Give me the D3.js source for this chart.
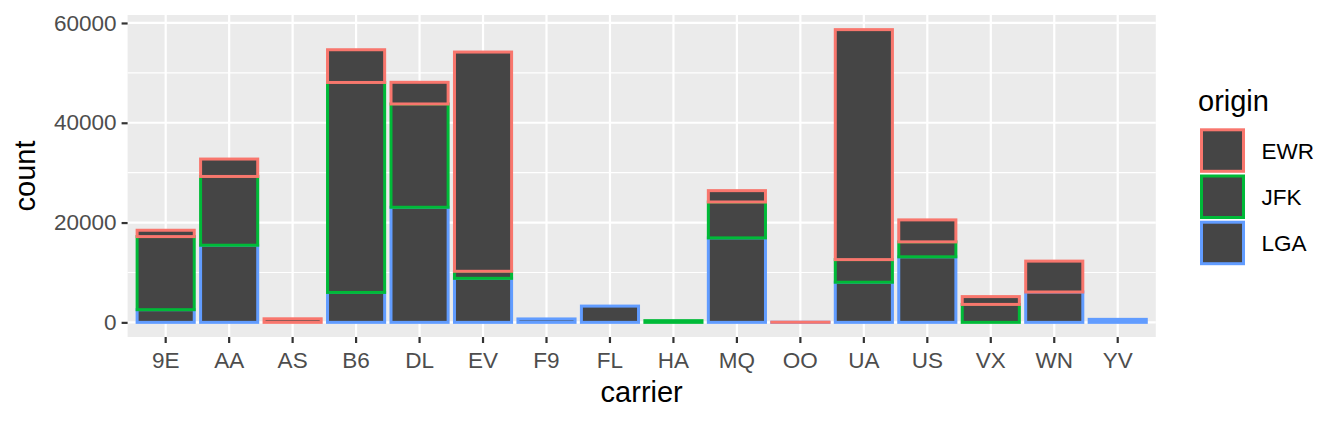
<!DOCTYPE html>
<html>
<head>
<meta charset="utf-8">
<script src="https://cdn.jsdelivr.net/npm/d3@7.9.0/dist/d3.min.js"></script>
<style>
  body { margin: 0; background: #fff; }
  text { font-family: "Liberation Sans", Arial, sans-serif; }
</style>
</head>
<body>
<svg id="chart" width="1344" height="422"></svg>
<script>
// flights per carrier, split by origin airport
const carriers = ['9E', 'AA', 'AS', 'B6', 'DL', 'EV', 'F9', 'FL', 'HA', 'MQ', 'OO', 'UA', 'US', 'VX', 'WN', 'YV'];
const origins = ['EWR', 'JFK', 'LGA'];
const ewr = [1268, 3487, 714, 6557, 4342, 43939, 0, 0, 0, 2276, 6, 46087, 4405, 1566, 6188, 0];
const jfk = [14651, 13783, 0, 42076, 20701, 1408, 0, 0, 342, 7193, 0, 4534, 2995, 3596, 0, 0];
const lga = [2541, 15459, 0, 6002, 23067, 8826, 685, 3260, 0, 16928, 26, 8044, 13136, 0, 6087, 601];
const yTicks = [0, 20000, 40000, 60000];
const yMinor = [10000, 30000, 50000];
const colors = ['#F8766D', '#00BA38', '#619CFF'];

const svg = d3.select('#chart');
const panel = { left: 127.6, right: 1155.8, top: 15, bottom: 337 };

let rows = carriers.map((c, i) => ({ carrier: c, EWR: ewr[i], JFK: jfk[i], LGA: lga[i] }));
// ggplot stacks the first level on top, so stack in reverse
let series = d3.stack().keys(['LGA', 'JFK', 'EWR'])(rows);
let maxTotal = d3.max(rows, (d) => d.EWR + d.JFK + d.LGA);

let x = d3.scaleBand()
  .domain(carriers)
  .range([panel.left, panel.right])
  .paddingInner(0.1)
  .paddingOuter(0.15);
let y = d3.scaleLinear()
  .domain([-0.05 * maxTotal, 1.05 * maxTotal])
  .range([panel.bottom, panel.top]);
let color = d3.scaleOrdinal().domain(origins).range(colors);

// panel background + grid
svg.append('rect')
  .attr('x', panel.left).attr('y', panel.top)
  .attr('width', panel.right - panel.left).attr('height', panel.bottom - panel.top)
  .attr('fill', '#EBEBEB');

svg.selectAll('.minor').data(yMinor).join('line')
  .attr('x1', panel.left).attr('x2', panel.right)
  .attr('y1', (d) => y(d)).attr('y2', (d) => y(d))
  .attr('stroke', '#fff').attr('stroke-width', 1.1);
svg.selectAll('.major-y').data(yTicks).join('line')
  .attr('x1', panel.left).attr('x2', panel.right)
  .attr('y1', (d) => y(d)).attr('y2', (d) => y(d))
  .attr('stroke', '#fff').attr('stroke-width', 2.2);
svg.selectAll('.major-x').data(carriers).join('line')
  .attr('y1', panel.top).attr('y2', panel.bottom)
  .attr('x1', (d) => x(d) + x.bandwidth() / 2).attr('x2', (d) => x(d) + x.bandwidth() / 2)
  .attr('stroke', '#fff').attr('stroke-width', 2.2);

// bars
series.forEach((s) => {
  svg.append('g').selectAll('rect').data(s).join('rect')
    .attr('x', (d) => x(d.data.carrier))
    .attr('width', x.bandwidth())
    .attr('y', (d) => y(d[1]))
    .attr('height', (d) => y(d[0]) - y(d[1]))
    .attr('fill', '#454545')
    .attr('stroke', color(s.key))
    .attr('stroke-width', 3)
    .attr('display', (d) => (d[1] - d[0] > 0 ? null : 'none'));
});

// axes
let yAxis = d3.axisLeft(y).tickValues(yTicks).tickFormat(d3.format('d')).tickSize(6).tickPadding(5);
let gy = svg.append('g').attr('transform', `translate(${panel.left},0)`).call(yAxis);
let xAxis = d3.axisBottom(x).tickSize(6).tickPadding(5);
let gx = svg.append('g').attr('transform', `translate(0,${panel.bottom})`).call(xAxis);
[gx, gy].forEach((g) => {
  g.select('.domain').remove();
  g.selectAll('.tick line').attr('stroke', '#333').attr('stroke-width', 2.2);
  g.selectAll('.tick text').attr('fill', '#4D4D4D').attr('font-size', 22.5)
    .attr('font-family', '"Liberation Sans", Arial, sans-serif');
});
gx.selectAll('.tick text').attr('dy', '0.9em');

svg.append('text')
  .attr('x', (panel.left + panel.right) / 2).attr('y', 401.5)
  .attr('text-anchor', 'middle').attr('font-size', 29).attr('fill', '#000')
  .text('carrier');
svg.append('text')
  .attr('transform', `translate(35,${(panel.top + panel.bottom) / 2}) rotate(-90)`)
  .attr('text-anchor', 'middle').attr('font-size', 29).attr('fill', '#000')
  .text('count');

// legend
let legend = svg.append('g');
legend.append('text')
  .attr('x', 1198).attr('y', 110.5)
  .attr('font-size', 29).attr('fill', '#000')
  .text('origin');
origins.forEach((o, i) => {
  let top = 128.3 + i * 46.2;
  legend.append('rect')
    .attr('x', 1201.5).attr('y', top + 1.5)
    .attr('width', 42).attr('height', 41.5)
    .attr('fill', '#454545')
    .attr('stroke', color(o)).attr('stroke-width', 3);
  legend.append('text')
    .attr('x', 1261.5).attr('y', top + 22.5)
    .attr('dy', '0.35em')
    .attr('font-size', 22.5).attr('fill', '#000')
    .text(o);
});
</script>
</body>
</html>
